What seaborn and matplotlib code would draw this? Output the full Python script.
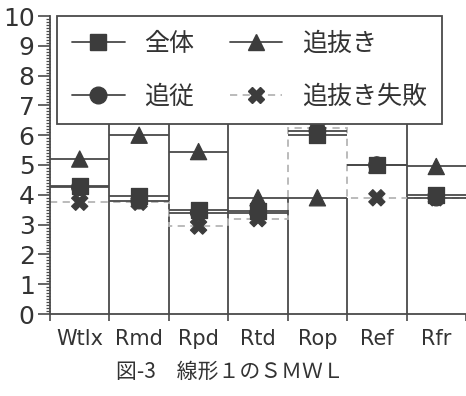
import numpy as np
import pandas as pd
import matplotlib
matplotlib.use("Agg")
import matplotlib.pyplot as plt
from matplotlib.lines import Line2D
from matplotlib.ticker import MultipleLocator, FixedLocator
import seaborn as sns

# данные
categories = ["Wtlx", "Rmd", "Rpd", "Rtd", "Rop", "Ref", "Rfr"]
zentai = [4.3, 3.95, 3.5, 3.45, 6.0, 5.0, 4.0]        # 全体 (■)
tsuiju = [4.25, 3.8, 3.4, 3.4, 6.15, 5.0, 3.9]        # 追従 (●)
oinuki = [5.2, 6.0, 5.45, 3.9, 3.9, 5.0, 4.95]        # 追抜き (▲)
shippai = [3.75, 3.75, 2.95, 3.2, 6.25, 3.9, 3.9]     # 追抜き失敗 (✖)
divider_top = [10, 10, 10, 3.9, 3.9, 10]               # высота разделителей между категориями
caption = "図-3　線形１のＳＭＷＬ"

sns.set_style("ticks")
plt.rcParams["font.family"] = ["DejaVu Sans", "Noto Sans CJK JP"]

line_c = "#4a4a4a"
mark_c = "#3c3c3c"
dash_c = "#b5b5b5"

fig = plt.figure(figsize=(4.66, 3.96), dpi=100)
ax = fig.add_axes([50 / 466, 82 / 396, 416 / 466, 298 / 396])

n = len(categories)
idx = np.arange(n)
edges = np.arange(n + 1) - 0.5

# разделители категорий
ax.vlines(edges[1:-1], 0, divider_top, color=line_c, lw=1.3, zorder=1)

# 追抜き失敗 — пунктирная ступенчатая линия
ax.stairs(shippai, edges, baseline=None, color=dash_c, lw=1.3,
          linestyle=(0, (4, 3)), zorder=2)

# остальные ряды — горизонтальные отрезки по ширине категории
for vals in [tsuiju, oinuki, zentai]:
    ax.hlines(vals, edges[:-1], edges[1:], color=line_c, lw=1.3, zorder=2)

# маркеры
df = pd.DataFrame({
    "x": np.concatenate([idx] * 4),
    "y": np.concatenate([tsuiju, oinuki, zentai, shippai]),
    "series": ["追従"] * n + ["追抜き"] * n + ["全体"] * n + ["追抜き失敗"] * n,
})
sns.scatterplot(data=df, x="x", y="y", style="series",
                markers={"追従": "o", "追抜き": "^", "全体": "s", "追抜き失敗": "X"},
                color=mark_c, edgecolor=mark_c, s=135, legend=False, ax=ax, zorder=3)

ax.set_xlim(-0.5, n - 0.5)
ax.set_ylim(0, 10)
ax.set_xlabel("")
ax.set_ylabel("")

ax.xaxis.set_major_locator(FixedLocator(idx))
ax.set_xticklabels(categories, fontsize=15, color="#333333")
ax.xaxis.set_minor_locator(FixedLocator(edges))
ax.tick_params(axis="x", which="major", length=0, pad=11)
ax.tick_params(axis="x", which="minor", length=5, width=1.2, color=line_c)

ax.yaxis.set_major_locator(MultipleLocator(1))
ax.yaxis.set_minor_locator(MultipleLocator(0.1))
ax.tick_params(axis="y", which="major", length=9, width=1.2, color=line_c,
               labelsize=18, labelcolor="#333333", pad=2)
ax.tick_params(axis="y", which="minor", length=3, width=0.9, color=line_c)

sns.despine(ax=ax, top=True, right=True)
for side in ["left", "bottom"]:
    ax.spines[side].set_color(line_c)
    ax.spines[side].set_linewidth(1.3)

handles = [
    Line2D([], [], color=line_c, lw=1.3, marker="s", markersize=12, markerfacecolor=mark_c, markeredgecolor=mark_c),
    Line2D([], [], color=line_c, lw=1.3, marker="o", markersize=12, markerfacecolor=mark_c, markeredgecolor=mark_c),
    Line2D([], [], color=line_c, lw=1.3, marker="^", markersize=12, markerfacecolor=mark_c, markeredgecolor=mark_c),
    Line2D([], [], color=dash_c, lw=1.3, ls=(0, (4, 3)), marker="X", markersize=12, markerfacecolor=mark_c, markeredgecolor=mark_c),
]
labels = ["全体", "追従", "追抜き", "追抜き失敗"]
leg = ax.legend(handles, labels, ncol=2, loc="upper left",
                bbox_to_anchor=(7 / 416, 1.0), borderaxespad=0,
                prop={"family": ["Noto Sans CJK JP", "DejaVu Sans"], "size": 18},
                handlelength=2.1, handletextpad=0.8, columnspacing=1.4,
                labelspacing=1.05, borderpad=0.6, fancybox=False,
                framealpha=1, edgecolor=line_c)
leg.get_frame().set_linewidth(1.3)
for t in leg.get_texts():
    t.set_color("#333333")

fig.text(0.493, 0.061, caption, ha="center", va="center", fontsize=15,
         color="#333333", family=["Noto Sans CJK JP", "DejaVu Sans"])

fig.savefig("out.png", dpi=100)
